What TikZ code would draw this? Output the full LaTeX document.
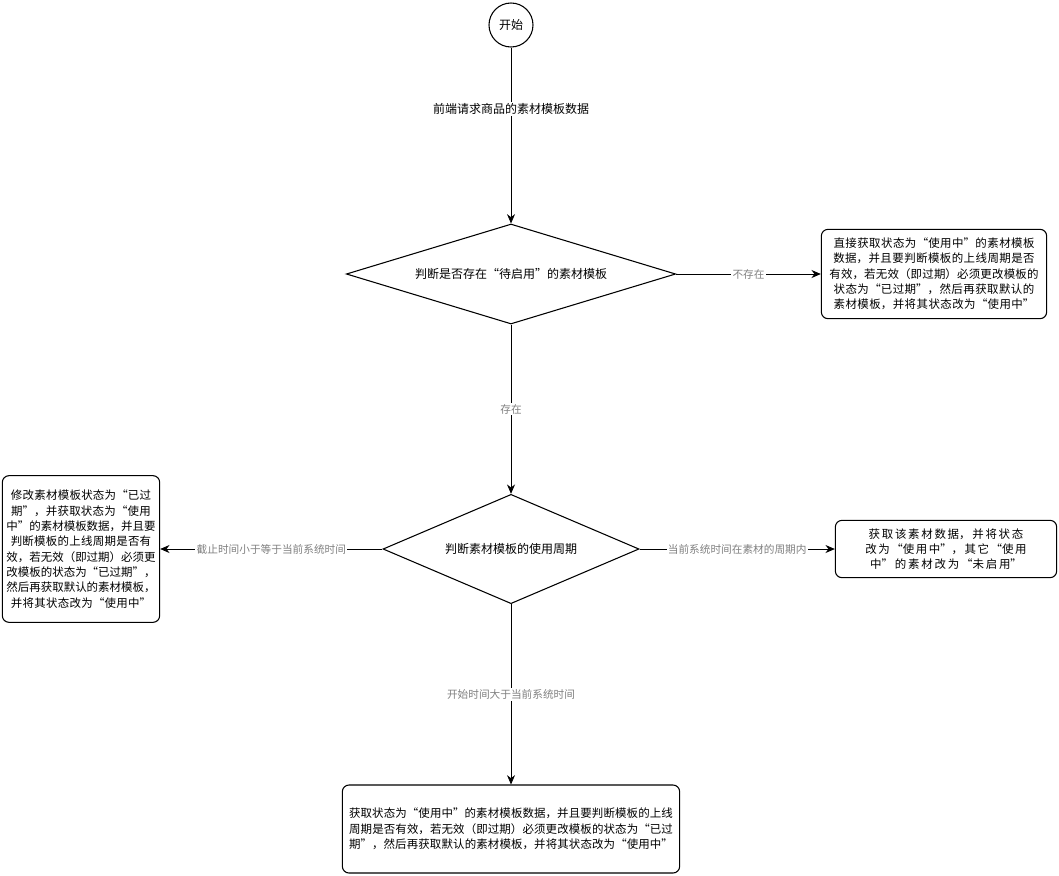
\documentclass[tikz,border=0pt]{standalone}
\usepackage{fontspec}
\setmainfont{Noto Sans CJK SC}
\XeTeXlinebreaklocale "zh"
\XeTeXlinebreakskip = 0pt plus 1pt
\usetikzlibrary{shapes.geometric,arrows.meta}

\begin{document}
\begin{tikzpicture} [x=0.75pt, y=-0.75pt,
				start/.style={
				% The shape:
				circle,
				% The size:
				minimum size=33pt, inner sep=0pt,
				% The border:
				thick, draw=black,
				font=\fontsize{9}{11}\selectfont
				},
				decision/.style={
				% The shape:
				diamond,
				inner sep=0pt,
				% The border:
				thick, draw=black,
				font=\fontsize{9}{11}\selectfont
				},
				action/.style={
				% The shape:
				rectangle, rounded corners=5pt,
				inner sep=2pt,
				% The border:
				thick, draw=black,
				align=center,
				font=\fontsize{8.6}{11.5}\selectfont
				},
				flow/.style={
				-{Stealth[length=7pt,width=6pt]}, semithick
				},
				cond/.style={
				fill=white, text=gray, inner sep=1pt,
				font=\fontsize{8}{10}\selectfont
				},
				]
    \useasboundingbox (0,0) rectangle (1059,875);
    \node [start] (start) at (511,25) {开始};
    \node [decision, minimum width=247pt, minimum height=75pt,
        label={[font=\fontsize{9}{11}\selectfont]center:判断是否存在“待启用”的素材模板}] (hasPending) at (511,274) {};
    \node [action, minimum width=169pt, minimum height=67pt, text width=162pt] (useCurrent) at (934,274)
        {直接获取状态为“使用中”的素材模板数据，并且要判断模板的上线周期是否有效，若无效（即过期）必须更改模板的状态为“已过期”，然后再获取默认的素材模板，并将其状态改为“使用中”};
    \node [decision, minimum width=192pt, minimum height=82pt,
        label={[font=\fontsize{9}{11}\selectfont]center:判断素材模板的使用周期}] (checkPeriod) at (511,549) {};
    \node [action, minimum width=118pt, minimum height=110pt, text width=112pt] (expired) at (81,549)
        {修改素材模板状态为“已过期”，并获取状态为“使用中”的素材模板数据，并且要判断模板的上线周期是否有效，若无效（即过期）必须更改模板的状态为“已过期”，然后再获取默认的素材模板，并将其状态改为“使用中”};
    \node [action, minimum width=166pt, minimum height=43pt, text width=160pt] (inPeriod) at (946,549)
        {获取该素材数据，并将状态改为“使用中”，其它“使用中”的素材改为“未启用”};
    \node [action, minimum width=253pt, minimum height=66pt, text width=246pt] (notStarted) at (511,829)
        {获取状态为“使用中”的素材模板数据，并且要判断模板的上线周期是否有效，若无效（即过期）必须更改模板的状态为“已过期”，然后再获取默认的素材模板，并将其状态改为“使用中”};

    \draw [flow] (start) -- node [pos=0.35, fill=white, inner sep=1pt, font=\fontsize{9}{11}\selectfont] {前端请求商品的素材模板数据} (hasPending);
    \draw [flow] (hasPending) -- node [cond] {不存在} (useCurrent);
    \draw [flow] (hasPending) -- node [cond] {存在} (checkPeriod);
    \draw [flow] (checkPeriod) -- node [cond] {截止时间小于等于当前系统时间} (expired);
    \draw [flow] (checkPeriod) -- node [cond] {当前系统时间在素材的周期内} (inPeriod);
    \draw [flow] (checkPeriod) -- node [cond] {开始时间大于当前系统时间} (notStarted);
\end{tikzpicture}
\end{document}
